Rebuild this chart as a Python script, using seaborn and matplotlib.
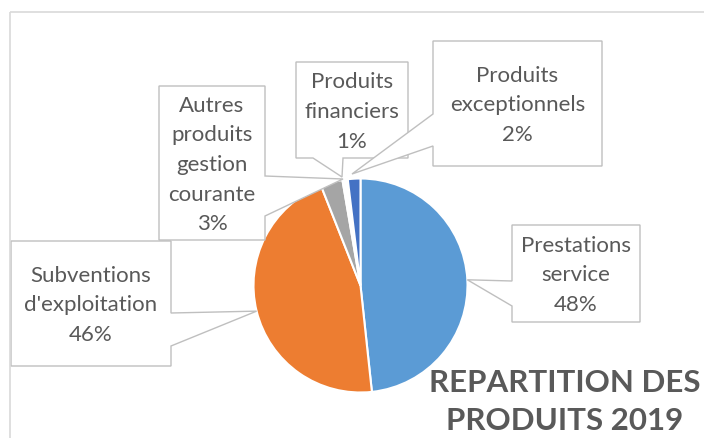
import numpy as np
import matplotlib.pyplot as plt
from matplotlib.patches import Polygon
import seaborn as sns

# Data
categories = ["Prestations\nservice", "Subventions\nd'exploitation",
              "Autres\nproduits\ngestion\ncourante", "Produits\nfinanciers",
              "Produits\nexceptionnels"]
values = [48.3, 45.7, 3.3, 0.8, 1.9]
colors = ["#5B9BD5", "#ED7D31", "#A5A5A5", "#FFFFFF", "#4472C4"]
title = "REPARTITION DES\nPRODUITS 2019"

# Callout layout (pixels, y down): box, side of pointer, pointer base, tip override
boxes = [(512, 226, 640, 323), (11, 242, 171, 367), (159, 87, 265, 241),
         (296, 63, 408, 159), (433, 42, 602, 167)]
sides = ["left", "right", "right", "bottom", "left"]
bases = [(282, 307), (314, 347), (177, 217), (313, 343), (115, 147)]
tips = [None, None, (343, 180), (342, 178), (352, 175)]

sns.set_theme(style="white")
plt.rcParams['font.family'] = ['Lato', 'DejaVu Sans']
text_color = "#595959"

W, H = 704, 439
fig = plt.figure(figsize=(W / 100, H / 100), dpi=100)

# Pie
cx, cy, r = 360.5, 286.5, 107
ax = fig.add_axes([(cx - r) / W, (H - cy - r) / H, 2 * r / W, 2 * r / H])
ax.pie(values, colors=colors, startangle=90, counterclock=False,
       wedgeprops=dict(edgecolor="white", linewidth=1.5))
ax.set_xlim(-1, 1)
ax.set_ylim(-1, 1)

# Overlay in pixel coordinates
ov = fig.add_axes([0, 0, 1, 1])
ov.set_xlim(0, W)
ov.set_ylim(H, 0)
ov.axis("off")

# chart border
ov.plot([10, 10], [13, H], color="#D9D9D9", lw=1.2, solid_capstyle="butt")
ov.plot([10, W], [13, 13], color="#D9D9D9", lw=1.2, solid_capstyle="butt")

to_ov = ax.transData + ov.transData.inverted()
cum = np.cumsum([0] + values[:-1])
total = sum(values)

for i, cat in enumerate(categories):
    x0, y0, x1, y1 = boxes[i]
    if tips[i] is None:
        ang = np.deg2rad((cum[i] + values[i] / 2) / total * 360)
        tx, ty = to_ov.transform((np.sin(ang), np.cos(ang)))
    else:
        tx, ty = tips[i]
    b0, b1 = bases[i]
    if sides[i] == "left":
        pts = [(x0, y0), (x1, y0), (x1, y1), (x0, y1), (x0, b1), (tx, ty), (x0, b0)]
    elif sides[i] == "right":
        pts = [(x0, y0), (x1, y0), (x1, b0), (tx, ty), (x1, b1), (x1, y1), (x0, y1)]
    else:
        pts = [(x0, y0), (x1, y0), (x1, y1), (b1, y1), (tx, ty), (b0, y1), (x0, y1)]
    ov.add_patch(Polygon(pts, closed=True, fc="white", ec="#BFBFBF", lw=1.0,
                         joinstyle="miter"))
    label = f"{cat}\n{round(values[i])}%"
    ov.text((x0 + x1) / 2, (y0 + y1) / 2 + 1, label, ha="center", va="center",
            fontsize=16, color=text_color, linespacing=1.6)

ov.text(565, 430, title, ha="center", va="baseline", fontsize=22.5,
        fontweight="bold", color=text_color, linespacing=1.42)

fig.savefig("out.png", dpi=100)
